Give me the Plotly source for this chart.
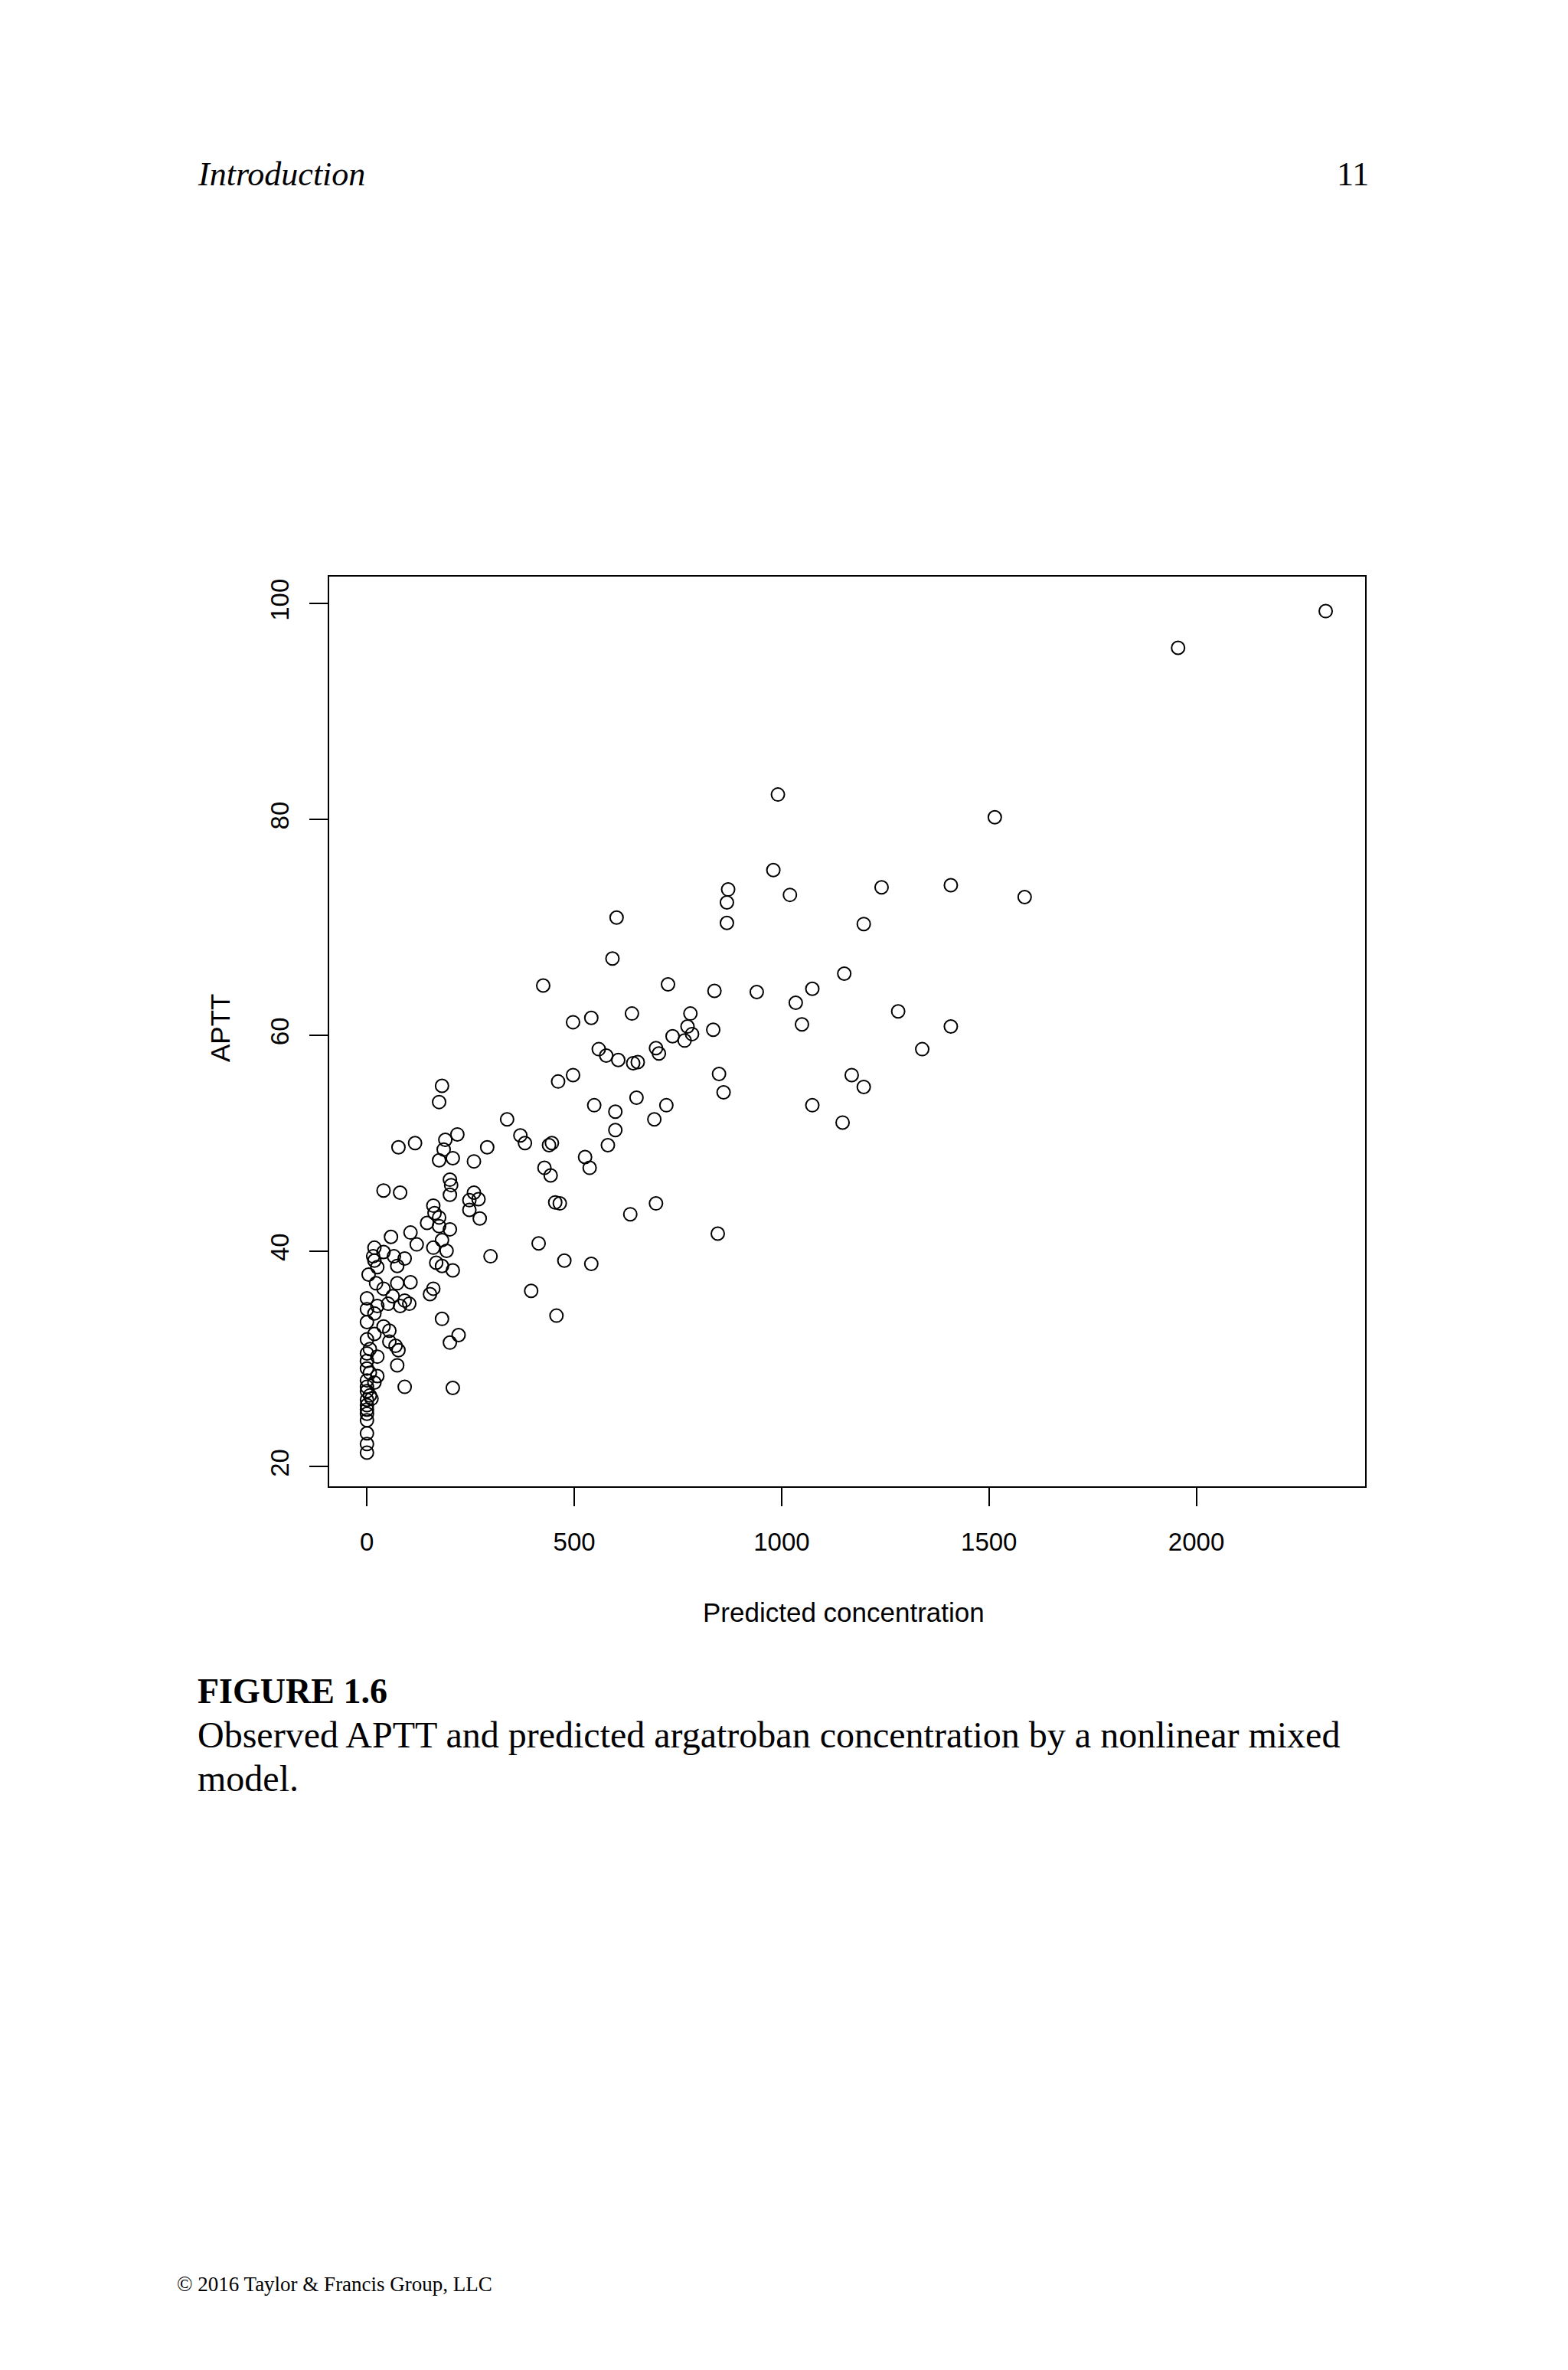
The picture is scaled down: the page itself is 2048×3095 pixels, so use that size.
import plotly.graph_objects as go

conc = [2312,1956,991,1514,980,1408,1241,871,1020,1586,868,602,868,1198,592,1151,425,726,838,940,1074,1034,1281,639,780,541,497,1049,1408,773,835,784,737,766,697,559,704,1339,577,606,653,642,497,849,1169,461,181,1198,860,650,174,548,722,1074,599,693,338,1147,599,218,370,189,381,446,116,76,185,290,439,581,526,207,258,174,428,537,443,200,203,40,80,200,258,269,247,454,465,160,697,247,163,174,272,635,145,174,200,846,105,58,181,120,414,160,18,192,40,15,65,91,298,476,541,18,167,181,73,25,207,4,105,73,22,40,160,396,152,62,0,91,102,51,25,80,0,18,457,181,0,40,54,18,221,0,200,54,69,7,76,0,25,0,73,0,7,25,0,18,91,207,0,0,7,0,11,0,0,0,0,0,0,0]
aptt = [99.3,95.9,82.3,80.2,75.3,73.9,73.7,73.5,73.0,72.8,72.3,70.9,70.4,70.3,67.1,65.7,64.6,64.7,64.1,64.0,64.3,63.0,62.2,62.0,62.0,61.6,61.2,61.0,60.8,60.8,60.5,60.1,59.9,59.5,58.8,58.7,58.3,58.7,58.1,57.7,57.5,57.4,56.3,56.4,56.3,55.7,55.3,55.2,54.7,54.2,53.8,53.5,53.5,53.5,52.9,52.2,52.2,51.9,51.2,50.8,50.7,50.3,50.0,50.0,50.0,49.6,49.4,49.6,49.8,49.8,48.7,48.6,48.3,48.4,47.7,47.7,47.0,46.6,46.1,45.6,45.4,45.2,45.4,44.8,44.7,44.5,44.4,44.2,44.4,43.8,43.5,43.1,43.0,43.4,42.6,42.3,42.0,41.6,41.7,41.3,41.0,40.6,40.7,40.3,40.3,40.0,39.9,39.5,39.5,39.3,39.5,39.1,38.8,39.1,38.9,38.6,38.6,38.5,38.2,37.8,37.1,37.0,37.0,36.5,36.5,36.3,36.0,35.8,35.6,35.4,35.1,35.1,34.9,34.9,34.6,34.2,34.0,33.7,33.4,33.0,32.6,32.3,32.2,31.8,31.5,31.6,31.2,30.9,30.8,30.5,30.2,29.8,29.4,29.1,28.7,28.4,28.0,27.8,27.4,27.3,27.4,27.0,26.6,26.2,26.3,25.7,25.3,24.9,24.3,23.1,22.1,21.3]
x_ticks = [0, 500, 1000, 1500, 2000]
y_ticks = [20, 40, 60, 80, 100]

L, R, T, B = 422, 1775, 745, 1933
def px(x): return (x - L) / (R - L)
def py(y): return (B - y) / (B - T)

fig = go.Figure(go.Scatter(
    x=conc, y=aptt, mode="markers",
    marker=dict(symbol="circle-open", size=17, color="black", line=dict(width=2, color="black")),
))
axis_common = dict(showline=True, mirror=True, linecolor="black", linewidth=2, ticks="outside",
                   ticklen=24, tickwidth=2, tickcolor="black", showgrid=False, zeroline=False,
                   tickfont=dict(family="Liberation Sans", size=33, color="black"))
fig.update_xaxes(range=[-91, 2407], tickvals=x_ticks, ticklabelstandoff=18, **axis_common)
fig.update_yaxes(range=[18.18, 102.5], tickvals=y_ticks, tickangle=-90, ticklabelstandoff=14, **axis_common)

serif = "Liberation Serif"
ann = [
    dict(x=px(248), y=py(219), text="<i>Introduction</i>", xanchor="left", font=dict(family=serif, size=44)),
    dict(x=px(1782), y=py(219), text="11", xanchor="right", font=dict(family=serif, size=44)),
    dict(x=px(1094), y=py(2097), text="Predicted concentration", xanchor="center", font=dict(family="Liberation Sans", size=35)),
    dict(x=px(279), y=py(1335), text="APTT", textangle=-90, xanchor="center", font=dict(family="Liberation Sans", size=35)),
    dict(x=px(248), y=py(2200), text="<b>FIGURE 1.6</b>", xanchor="left", font=dict(family=serif, size=46)),
    dict(x=px(248), y=py(2257), text="Observed APTT and predicted argatroban concentration by a nonlinear mixed", xanchor="left", font=dict(family=serif, size=48)),
    dict(x=px(248), y=py(2314), text="model.", xanchor="left", font=dict(family=serif, size=48)),
    dict(x=px(221), y=py(2975), text="© 2016 Taylor & Francis Group, LLC", xanchor="left", font=dict(family=serif, size=27)),
]
for a in ann:
    a.update(xref="paper", yref="paper", showarrow=False, yanchor="middle")
    a["font"]["color"] = "black"
fig.update_layout(width=2048, height=3095, margin=dict(l=L, r=2048 - R, t=T, b=3095 - B),
                  paper_bgcolor="white", plot_bgcolor="white", showlegend=False, annotations=ann)
fig.write_html("out.html")
